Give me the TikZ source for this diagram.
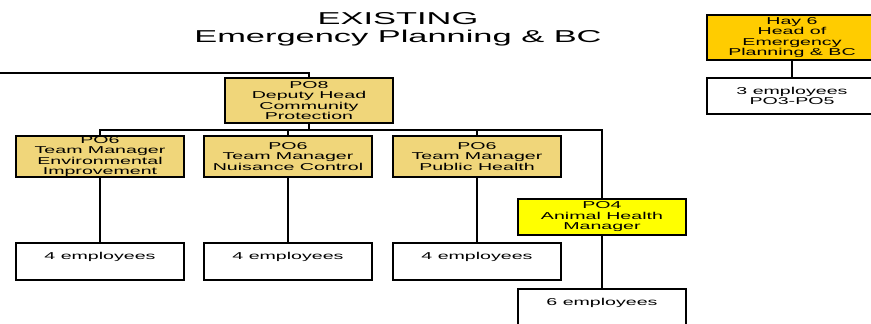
\documentclass[tikz,border=0pt]{standalone}
\usepackage{fontspec}
\newfontfamily\wf[FakeStretch=1.96]{Liberation Sans}
\newfontfamily\wt[FakeStretch=2.0]{Liberation Sans}
\definecolor{tanfill}{RGB}{240,214,122}
\definecolor{yel}{RGB}{255,255,0}
\definecolor{gold}{RGB}{255,204,0}
\tikzset{
  box/.style={draw=black, line width=1.6pt, minimum width=168pt, inner sep=0pt, align=center,
    font=\wf\fontsize{10}{10.5}\selectfont},
  tanbox/.style={box, fill=tanfill},
  wbox/.style={box, fill=white, minimum height=37pt},
  conn/.style={line width=1.5pt, black},
}
\begin{document}
\begin{tikzpicture}[x=1pt,y=-1pt]
\useasboundingbox (0,0) rectangle (871,324);
\clip (0,0) rectangle (871,324);
\node[font=\wt\fontsize{17.2}{18}\selectfont, align=center] (title) at (398,29.5) {EXISTING\\Emergency Planning \& BC};

\node[tanbox, minimum height=45pt] (po8) at (309,100.5) {PO8\\Deputy Head\\Community\\Protection};
\node[tanbox, minimum height=41pt] (c1) at (100,156.5) {PO6\\Team Manager\\Environmental\\Improvement};
\node[tanbox, minimum height=41pt] (c2) at (288,156.5) {PO6\\Team Manager\\Nuisance Control};
\node[tanbox, minimum height=41pt] (c3) at (477,156.5) {PO6\\Team Manager\\Public Health};
\node[box, fill=yel, minimum height=36pt] (po4) at (602,217) {PO4\\Animal Health\\Manager};

\node[wbox] (e1) at (100,261.5) {4 employees\\\mbox{}};
\node[wbox] (e2) at (288,261.5) {4 employees\\\mbox{}};
\node[wbox] (e3) at (477,261.5) {4 employees\\\mbox{}};
\node[wbox] (e4) at (602,307.5) {6 employees\\\mbox{}};

\node[box, fill=gold, minimum width=170pt, minimum height=45pt] (hay) at (792,37.5) {Hay 6\\Head of\\Emergency\\Planning \& BC};
\node[box, fill=white, minimum width=170pt, minimum height=36pt] (e5) at (792,96) {3 employees\\PO3-PO5};

\coordinate (left) at (0,73);
\coordinate (bus) at (309,130);
\draw[conn] (left) -| (po8.north);
\draw[conn] (po8.south) -- (bus);
\draw[conn] (bus) -| (c1.north);
\draw[conn] (bus) -| (c2.north);
\draw[conn] (bus) -| (c3.north);
\draw[conn] (bus) -| (po4.north);
\draw[conn] (c1.south) -- (e1.north);
\draw[conn] (c2.south) -- (e2.north);
\draw[conn] (c3.south) -- (e3.north);
\draw[conn] (po4.south) -- (e4.north);
\draw[conn] (hay.south) -- (e5.north);
\end{tikzpicture}
\end{document}
